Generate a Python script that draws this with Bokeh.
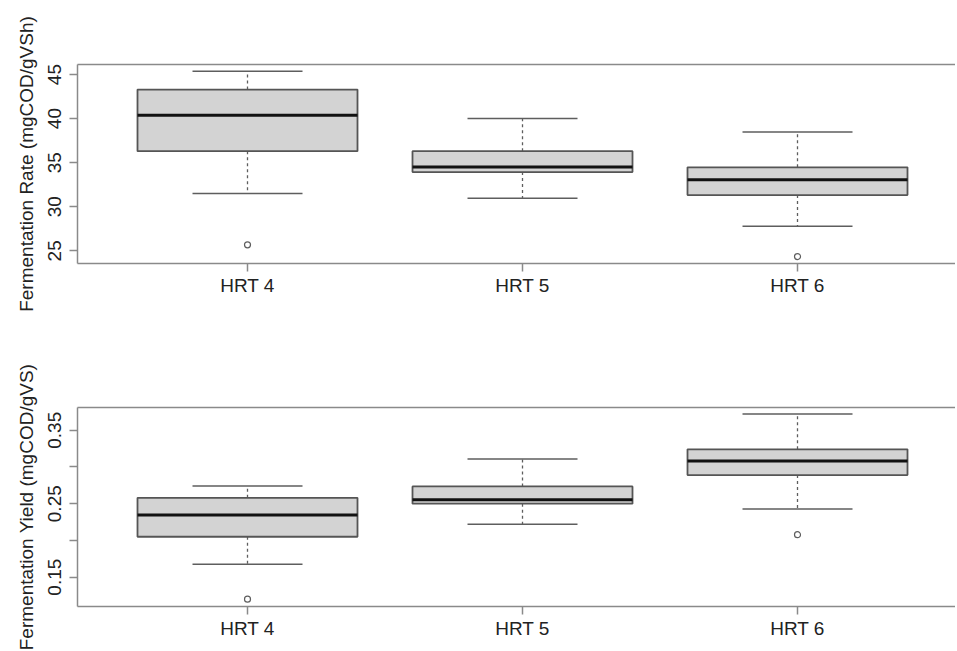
from bokeh.plotting import figure
from bokeh.layouts import column
from bokeh.models import Range1d, FixedTicker, LinearAxis
from bokeh.embed import file_html
from bokeh.resources import INLINE

# ---- data ----
categories = ["HRT 4", "HRT 5", "HRT 6"]
positions = [1, 2, 3]

rate_lower = [31.5, 30.95, 27.8]
rate_q1 = [36.3, 33.93, 31.32]
rate_median = [40.38, 34.5, 33.07]
rate_q3 = [43.3, 36.3, 34.47]
rate_upper = [45.37, 40.0, 38.49]
rate_out_x = [1, 3]
rate_out_y = [25.68, 24.35]

yield_lower = [0.1677, 0.222, 0.2428]
yield_q1 = [0.205, 0.250, 0.289]
yield_median = [0.2346, 0.2555, 0.308]
yield_q3 = [0.258, 0.2735, 0.324]
yield_upper = [0.274, 0.311, 0.372]
yield_out_x = [1, 3]
yield_out_y = [0.120, 0.2078]

rate_ticks = [25, 30, 35, 40, 45]
yield_ticks = [0.15, 0.25, 0.35]
yield_minor_ticks = [0.20, 0.30]

FONT = "Liberation Sans"
FS = "19px"
FRAME = "#8a8a8a"
LINE = "#5e5e5e"
BOXW = 0.4
CAPW = 0.2
FRAME_W = 878


def make_panel(title, lower, q1, med, q3, upper, ox, oy, yr, ticks, minor, border_top, border_bottom):
    p = figure(output_backend="svg", toolbar_location=None,
               frame_width=FRAME_W, frame_height=199,
               min_border_left=77, min_border_right=0,
               min_border_top=border_top, min_border_bottom=border_bottom,
               x_range=Range1d(0.3818, 0.3818 + FRAME_W / 275.0), y_range=Range1d(*yr),
               x_axis_location=None, y_axis_location=None)
    p.outline_line_color = None
    p.xgrid.visible = False
    p.ygrid.visible = False
    p.background_fill_color = "white"
    p.border_fill_color = "white"

    # axes
    xa = LinearAxis(ticker=FixedTicker(ticks=positions, minor_ticks=[]),
                    major_label_overrides={pos: c for pos, c in zip(positions, categories)})
    ya = LinearAxis(ticker=FixedTicker(ticks=ticks, minor_ticks=minor), axis_label=title)
    top = LinearAxis(ticker=FixedTicker(ticks=[], minor_ticks=[]))
    for a in (xa, ya, top):
        a.axis_line_color = FRAME
        a.axis_line_width = 1.5
        a.major_tick_line_color = FRAME if a is not top else None
        a.major_tick_line_width = 1.5
        a.major_tick_out = 8
        a.major_tick_in = 0
        a.minor_tick_line_color = None
        a.major_label_text_font = FONT
        a.major_label_text_font_size = FS
        a.major_label_text_color = "#222222" if a is not top else None
    ya.minor_tick_line_color = FRAME
    ya.minor_tick_line_width = 1.5
    ya.minor_tick_out = 8
    ya.minor_tick_in = 0
    ya.major_label_orientation = "vertical"
    ya.major_label_standoff = 8
    ya.axis_label_text_font = FONT
    ya.axis_label_text_font_size = "19px"
    ya.axis_label_text_font_style = "normal"
    ya.axis_label_text_color = "#222222"
    ya.axis_label_standoff = 9
    xa.major_label_standoff = 3
    p.add_layout(xa, "below")
    p.add_layout(ya, "left")
    p.add_layout(top, "above")

    # whiskers (dashed)
    p.segment(x0=positions, y0=q3, x1=positions, y1=upper, line_color=LINE,
              line_width=1.3, line_dash="3 3")
    p.segment(x0=positions, y0=q1, x1=positions, y1=lower, line_color=LINE,
              line_width=1.3, line_dash="3 3")
    # caps
    p.segment(x0=[x - CAPW for x in positions], y0=upper, x1=[x + CAPW for x in positions],
              y1=upper, line_color=LINE, line_width=1.5)
    p.segment(x0=[x - CAPW for x in positions], y0=lower, x1=[x + CAPW for x in positions],
              y1=lower, line_color=LINE, line_width=1.5)
    # boxes
    p.quad(left=[x - BOXW for x in positions], right=[x + BOXW for x in positions],
           bottom=q1, top=q3, fill_color="#d3d3d3", line_color="#555555", line_width=1.8)
    # medians
    p.segment(x0=[x - BOXW for x in positions], y0=med, x1=[x + BOXW for x in positions],
              y1=med, line_color="#111111", line_width=3)
    # outliers
    p.scatter(x=ox, y=oy, marker="circle", size=6, fill_color="white",
              line_color=LINE, line_width=1.2)
    return p


p1 = make_panel("Fermentation Rate (mgCOD/gVSh)", rate_lower, rate_q1, rate_median, rate_q3,
                rate_upper, rate_out_x, rate_out_y, (23.56, 46.14), rate_ticks, [], 64, 67)
p2 = make_panel("Fermentation Yield (mgCOD/gVS)", yield_lower, yield_q1, yield_median, yield_q3,
                yield_upper, yield_out_x, yield_out_y, (0.110, 0.381), yield_ticks,
                yield_minor_ticks, 77, 43)

layout = column(p1, p2, spacing=0)
open("out.html", "w").write(file_html(layout, INLINE))
